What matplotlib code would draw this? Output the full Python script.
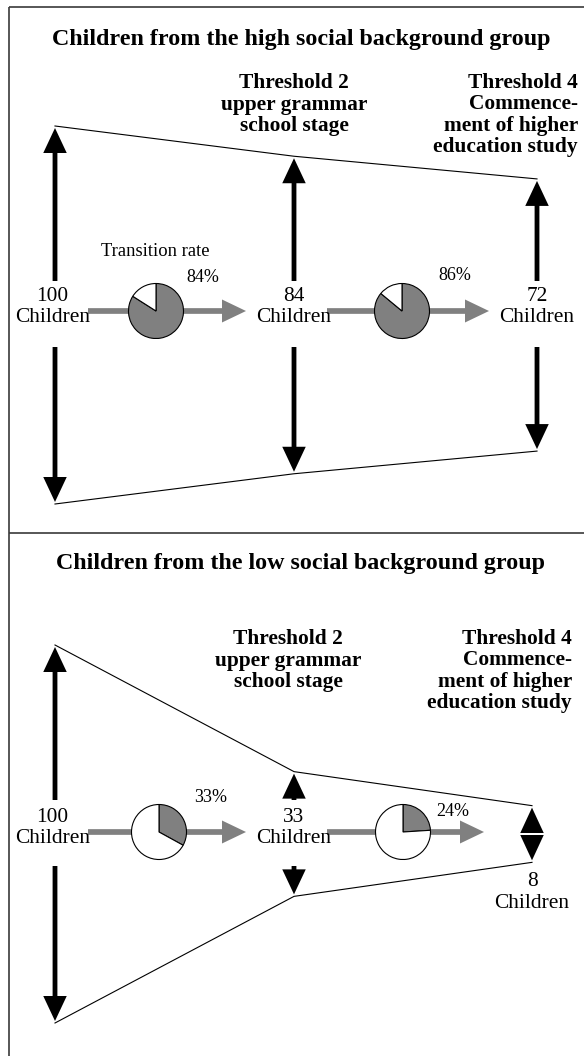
import matplotlib
matplotlib.use("Agg")
import matplotlib.pyplot as plt
from matplotlib.patches import FancyArrow

W, H = 584, 1056

# ---------------- data ----------------
titles = ["Children from the high social background group",
          "Children from the low social background group"]
stage_labels = ["Threshold 2\nupper grammar\nschool stage",
                "Threshold 4\nCommence-\nment of higher\neducation study"]
high_counts = [100, 84, 72]
low_counts = [100, 33, 8]
high_rates = [84, 86]
low_rates = [33, 24]
rate_caption = "Transition rate"
unit_label = "Children"

# ---------------- style ----------------
plt.rcParams['font.family'] = ['Liberation Serif', 'DejaVu Serif']
GRAY = '#808080'
FRAME = '#3a3a3a'

fig = plt.figure(figsize=(W / 100, H / 100), dpi=100)
ax = fig.add_axes([0, 0, 1, 1])
ax.set_xlim(0, W)
ax.set_ylim(H, 0)
ax.axis('off')

# frame
ax.plot([9, 9], [6.5, H], color=FRAME, lw=1.2, solid_capstyle='butt')
ax.plot([9, W], [6.5, 6.5], color=FRAME, lw=1.2, solid_capstyle='butt')
ax.plot([9, W], [533, 533], color=FRAME, lw=1.2, solid_capstyle='butt')

panels = [
    dict(counts=high_counts, rates=high_rates, title=titles[0], title_y=40,
         center=315, arrow_y=311, cols=[55, 294, 537], pie_x=[156, 402],
         pct_off=[(47, -33), (53, -35)], t2=(294, 105), t4=(578, 115),
         label_dy=-8, caption=True),
    dict(counts=low_counts, rates=low_rates, title=titles[1], title_y=564,
         center=834, arrow_y=832, cols=[55, 294, 532], pie_x=[159, 403],
         pct_off=[(52, -34), (50, -20)], t2=(288, 661), t4=(572, 671),
         label_dy=-6, caption=False),
]

SCALE = 1.89       # px per child (half height)
MIN_HALF = 15      # display floor for tiny counts
SHAFT_W, HEAD_W, HEAD_L = 4.8, 23.5, 25
R_PIE = 27.5

for p in panels:
    c = p['center']
    ax.text(301, p['title_y'], p['title'], ha='center', va='center',
            fontsize=17.3, fontweight='bold')
    ax.text(p['t2'][0], p['t2'][1], stage_labels[0], ha='center', va='center',
            fontsize=15.4, fontweight='bold', linespacing=1.1)
    ax.text(p['t4'][0], p['t4'][1], stage_labels[1], ha='right', va='center',
            fontsize=15.4, fontweight='bold', linespacing=1.1,
            multialignment='right')

    halves = [SCALE * max(n, MIN_HALF) for n in p['counts']]
    xs = p['cols']
    # funnel outline
    ax.plot(xs, [c - h for h in halves], color='black', lw=0.8)
    ax.plot(xs, [c + h for h in halves], color='black', lw=0.8)

    for k, (x, h, n) in enumerate(zip(xs, halves, p['counts'])):
        tip_up = c - h + 2
        tip_dn = c + h - 2
        up_start = c - 34
        dn_start = c + 32
        lx = x - 2.5 if k == 0 else x
        if up_start - tip_up >= HEAD_L:
            ax.add_patch(FancyArrow(x, up_start, 0, tip_up - up_start,
                                    width=SHAFT_W, head_width=HEAD_W,
                                    head_length=HEAD_L, length_includes_head=True,
                                    color='black', lw=0))
            ax.add_patch(FancyArrow(x, dn_start, 0, tip_dn - dn_start,
                                    width=SHAFT_W, head_width=HEAD_W,
                                    head_length=HEAD_L, length_includes_head=True,
                                    color='black', lw=0))
            ax.text(lx, c + p['label_dy'], f"{n}\n{unit_label}", ha='center',
                    va='center', fontsize=15.4, linespacing=1.2)
        else:
            L1 = (c - 1) - tip_up
            L2 = tip_dn - (c + 1)
            ax.add_patch(FancyArrow(x, c - 1, 0, -L1, width=SHAFT_W,
                                    head_width=HEAD_W, head_length=L1,
                                    length_includes_head=True, color='black', lw=0))
            ax.add_patch(FancyArrow(x, c + 1, 0, L2, width=SHAFT_W,
                                    head_width=HEAD_W, head_length=L2,
                                    length_includes_head=True, color='black', lw=0))
            ax.text(x, c + h + 30, f"{n}\n{unit_label}", ha='center', va='center',
                    fontsize=15.4, linespacing=1.2)

    # transitions
    ay = p['arrow_y']
    for i, rate in enumerate(p['rates']):
        start = xs[i] + 33
        end = xs[i + 1] - 48
        ax.add_patch(FancyArrow(start, ay, end - start, 0, width=5.7,
                                head_width=23, head_length=24,
                                length_includes_head=True, color=GRAY, lw=0))
        px = p['pie_x'][i]
        pax = fig.add_axes([(px - R_PIE - 1) / W, 1 - (ay + R_PIE + 1) / H,
                            2 * (R_PIE + 1) / W, 2 * (R_PIE + 1) / H])
        pax.pie([rate, 100 - rate], colors=[GRAY, 'white'], startangle=90,
                counterclock=False, radius=R_PIE / (R_PIE + 1),
                wedgeprops=dict(edgecolor='black', linewidth=0.8))
        pax.set_xlim(-1, 1)
        pax.set_ylim(-1, 1)
        pax.set_aspect('equal')
        pax.axis('off')
        dx, dy = p['pct_off'][i]
        ax.text(px + dx, ay + dy, f"{rate}%", ha='center', va='center',
                fontsize=13)
    if p['caption']:
        ax.text(155, 251, rate_caption, ha='center', va='center', fontsize=13.4)

fig.savefig("out.png", dpi=100)
